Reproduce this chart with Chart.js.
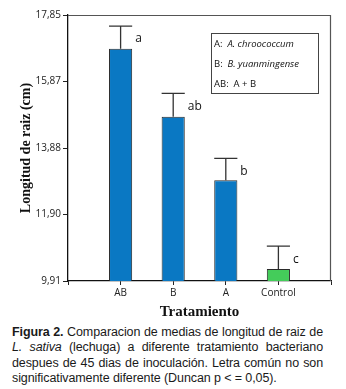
<!DOCTYPE html>
<html><head><meta charset="utf-8">
<script src="https://cdn.jsdelivr.net/npm/chart.js@4"></script>
<style>
html,body{margin:0;padding:0;background:#fff;width:346px;height:389px;overflow:hidden;}
#wrap{position:relative;width:346px;height:389px;}
canvas{position:absolute;left:0;top:0;}
#cap{position:absolute;left:12px;top:325px;width:311px;font-family:"Liberation Sans",Arial,sans-serif;font-size:12.5px;letter-spacing:-0.1px;line-height:15.3px;color:#1a1a1a;}
#cap div{text-align:justify;text-align-last:justify;}
#cap div.last{text-align-last:left;}
</style></head>
<body><div id="wrap">
<canvas id="c" width="346" height="322"></canvas>
<div id="cap">
<div><b>Figura 2.</b> Comparacion de medias de longitud de raiz de</div>
<div><i>L. sativa</i> (lechuga) a diferente tratamiento bacteriano</div>
<div>despues de 45 dias de inoculación. Letra común no son</div>
<div class="last">significativamente diferente (Duncan p &lt; = 0,05).</div>
</div>
</div>
<script>
const categories = ['AB', 'B', 'A', 'Control'];
const means = [16.84, 14.81, 12.92, 10.27];
const errors = [0.68, 0.70, 0.65, 0.68];
const letters = ['a', 'ab', 'b', 'c'];
const yTicks = [9.91, 11.90, 13.88, 15.87, 17.85];
const legendItems = [['A:  ', 'A. chroococcum'], ['B:  ', 'B. yuanmingense'], ['AB:  ', 'A + B']];

const labels = [''].concat(categories, ['']);
const data = [null].concat(means, [null]);
const errs = [null].concat(errors, [null]);
const lets = [null].concat(letters, [null]);
const blue = '#0A78C3', green = '#44CC5A';
const colors = labels.map(l => l === 'Control' ? green : blue);

const extras = {
  id: 'extras',
  afterDatasetsDraw(chart) {
    const ctx = chart.ctx, y = chart.scales.y, ca = chart.chartArea;
    const meta = chart.getDatasetMeta(0);
    ctx.save();
    ctx.strokeStyle = '#555'; ctx.lineWidth = 1.2;
    ctx.beginPath();
    ctx.moveTo(ca.left, ca.top + 0.5); ctx.lineTo(ca.right - 0.5, ca.top + 0.5); ctx.lineTo(ca.right - 0.5, ca.bottom);
    ctx.stroke();
    meta.data.forEach((bar, i) => {
      if (data[i] == null) return;
      const top = y.getPixelForValue(data[i] + errs[i]);
      const half = bar.width / 2;
      ctx.strokeStyle = '#333'; ctx.lineWidth = 1.3;
      ctx.beginPath();
      ctx.moveTo(bar.x, bar.y); ctx.lineTo(bar.x, top);
      ctx.moveTo(bar.x - half, top); ctx.lineTo(bar.x + half, top);
      ctx.stroke();
      ctx.fillStyle = '#111'; ctx.font = '12px "Open Sans"';
      ctx.textAlign = 'left'; ctx.textBaseline = 'middle';
      ctx.fillText(lets[i], bar.x + half + 3, top + 13);
    });
    ctx.strokeStyle = '#444'; ctx.lineWidth = 1;
    ctx.strokeRect(211.5, 33.5, 107, 60);
    ctx.fillStyle = '#111'; ctx.textBaseline = 'middle';
    const ys = [44, 64, 84];
    legendItems.forEach((it, k) => {
      ctx.font = '9.5px "Open Sans"';
      ctx.fillText(it[0], 214, ys[k]);
      const w = ctx.measureText(it[0]).width;
      ctx.font = (k < 2 ? 'italic ' : '') + '9.5px "Open Sans"';
      ctx.fillText(it[1], 214 + w, ys[k]);
    });
    ctx.restore();
  }
};

new Chart(document.getElementById('c'), {
  type: 'bar',
  data: { labels: labels, datasets: [{ data: data, backgroundColor: colors, borderColor: '#2a2a2a', borderWidth: 1, borderSkipped: 'bottom', barPercentage: 0.44, categoryPercentage: 1 }] },
  options: {
    responsive: false, animation: false,
    layout: { padding: { left: 14, right: 15, top: 15, bottom: 0 } },
    plugins: { legend: { display: false }, tooltip: { enabled: false } },
    scales: {
      x: {
        offset: false,
        grid: { display: true, drawOnChartArea: false, offset: false, tickLength: 4, color: '#222' },
        border: { color: '#111', width: 1.3 },
        ticks: { autoSkip: false, maxRotation: 0, padding: 2, color: '#222', font: { family: 'Open Sans', size: 10 } },
        title: { display: true, text: 'Tratamiento', color: '#111', padding: { top: 2, bottom: 1 }, font: { family: 'Liberation Serif', size: 15, weight: 'bold' } },
        afterFit(s) { s.height = 41; }
      },
      y: {
        min: yTicks[0], max: yTicks[yTicks.length - 1],
        afterBuildTicks(s) { s.ticks = yTicks.map(v => ({ value: v })); },
        grid: { display: true, drawOnChartArea: false, tickLength: 5, color: '#222' },
        border: { color: '#111', width: 1.3 },
        ticks: { padding: 2, color: '#222', font: { family: 'Open Sans', size: 10 }, callback: v => v.toFixed(2).replace('.', ',') },
        title: { display: true, text: 'Longitud de raiz (cm)', color: '#111', padding: { top: 4, bottom: 4 }, font: { family: 'Liberation Serif', size: 14, weight: 'bold' } },
        afterFit(s) { s.width = 54; }
      }
    }
  },
  plugins: [extras]
});
</script>
</body></html>
